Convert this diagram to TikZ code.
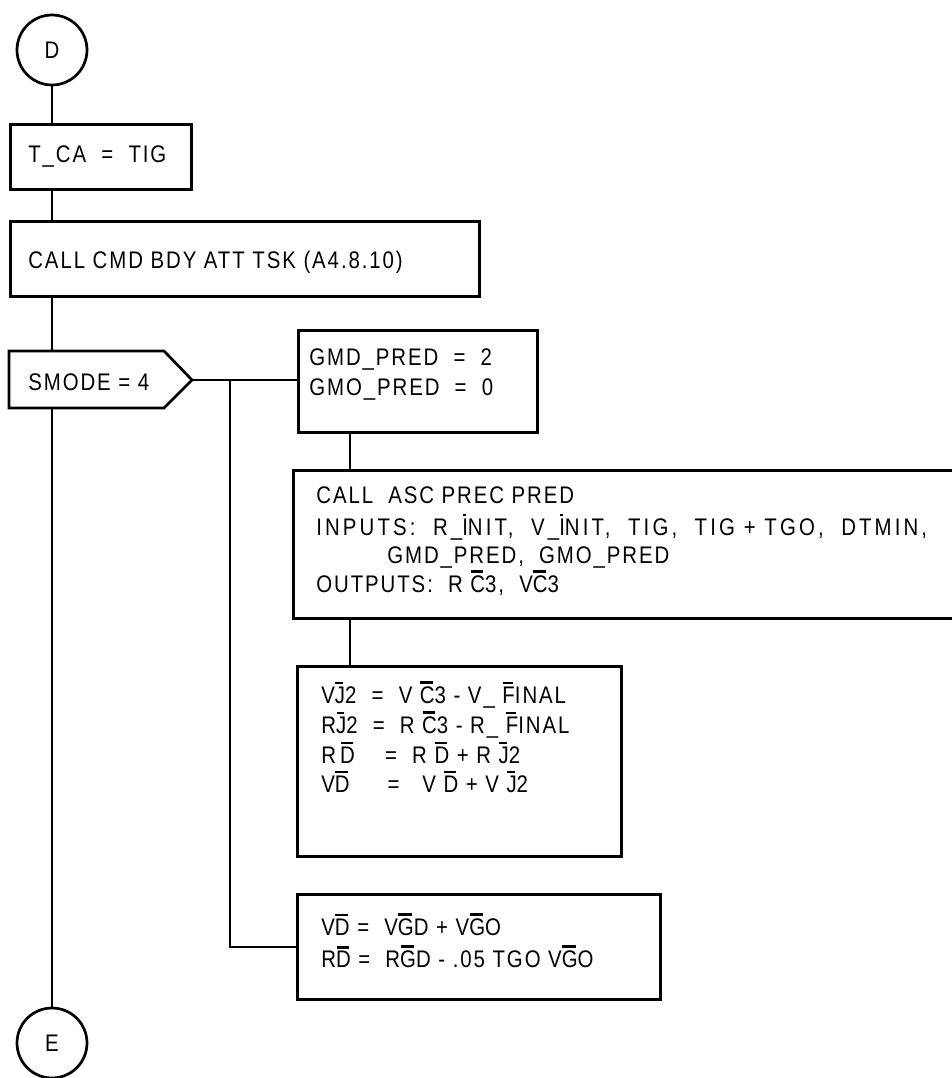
\documentclass[tikz,border=0pt]{standalone}
\usepackage{fontspec}
\setmainfont{Liberation Sans}[FakeStretch=0.85,LetterSpace=8]
\newcommand\ob[1]{\setbox0\hbox{#1}\rlap{\hspace{0.5pt}\rule[\dimexpr\ht0+2pt\relax]{\dimexpr\wd0-2.5pt\relax}{2.8pt}}\box0\relax}
\begin{document}
\begin{tikzpicture}[x=1pt,y=-1pt,line width=2.7pt,
  box/.style={draw,rectangle,inner sep=0pt,anchor=north west},
  txt/.style={anchor=base west,inner sep=0pt,font=\fontsize{24}{30}\selectfont},
  conn/.style={draw,line width=2.7pt},
  term/.style={draw,circle,minimum size=70pt,inner sep=0pt,font=\fontsize{24}{30}\selectfont}]
\useasboundingbox (0,0) rectangle (951,1078);
% terminals
\node[term] (d) at (52,50) {D};
\node[term] (e) at (52,1043) {E};
% boxes
\node[box,minimum width=181pt,minimum height=65pt] (tca) at (9,123) {};
\node[txt] (tcat) at (27,163) {T\_CA\ \ =\ \ TIG};
\node[box,minimum width=469pt,minimum height=75pt] (cmd) at (9,220) {};
\node[txt] (cmdt) at (27,268) {CALL CMD BDY ATT TSK (A4.8.10)};
% decision pentagon
\draw (9,351) -- (164,351) -- (192,380) -- (164,408) -- (9,408) -- cycle;
\coordinate (smtop) at (52,351);
\coordinate (smbot) at (52,408);
\coordinate (smtip) at (192,380);
\node[txt] (smt) at (27,390) {SMODE = 4};
% right branch boxes
\node[box,minimum width=239pt,minimum height=102pt] (gmd) at (297,329) {};
\node[txt] (gmd1) at (308,365) {GMD\_PRED\ \ =\ \ 2};
\node[txt] (gmd2) at (308,395) {GMO\_PRED\ \ =\ \ 0};
\node[box,minimum width=668pt,minimum height=148pt] (asc) at (292,469) {};
\node[txt] (asc1) at (315,503) {CALL\ \ ASC PREC PRED};
\node[txt] (asc2) at (315,535) {\addfontfeature{LetterSpace=13}INPUTS:\ \ R\_\ob{I}NIT,\ \ V\_\ob{I}NIT,\ \ TIG,\ \ TIG + TGO,\ \ DTMIN,};
\node[txt] (asc3) at (386,563) {GMD\_PRED,\ \ GMO\_PRED};
\node[txt] (asc4) at (315,592) {OUTPUTS:\ \ R \ob{C}3,\ \ V\ob{C}3};
\node[box,minimum width=324pt,minimum height=190pt] (vj) at (296,665) {};
\node[txt] (vj1) at (320,703) {V\ob{J}2\ \ =\ \ V \ob{C}3 - V\_ \ob{F}INAL};
\node[txt] (vj2) at (320,733) {R\ob{J}2\ \ =\ \ R \ob{C}3 - R\_ \ob{F}INAL};
\node[txt] (vj3) at (320,763) {R\,\ob{D}\ \ \ \ =\ \ R \ob{D} + R \ob{J}2};
\node[txt] (vj4) at (320,792) {V\ob{D}\ \ \ \ \ =\ \ \ V \ob{D} + V \ob{J}2};
\node[box,minimum width=363pt,minimum height=105pt] (vd) at (296,893) {};
\node[txt] (vd1) at (320,935) {V\ob{D} =\ \ V\ob{G}D + V\ob{G}O};
\node[txt] (vd2) at (320,967) {R\ob{D} =\ \ R\ob{G}D - .05 TGO V\ob{G}O};
% connectors
\coordinate (cx) at (350,0);
\coordinate (br) at (230,380);
\draw[conn] (d.south) -- (d.south |- tca.north);
\draw[conn] (d.south |- tca.south) -- (d.south |- cmd.north);
\draw[conn] (d.south |- cmd.south) -- (smtop);
\draw[conn] (smbot) -- (e.north);
\draw[conn] (smtip) -- (smtip -| gmd.west);
\draw[conn] (br) |- (vd.west);
\draw[conn] (gmd.south -| cx) -- (asc.north -| cx);
\draw[conn] (asc.south -| cx) -- (vj.north -| cx);
\end{tikzpicture}
\end{document}
